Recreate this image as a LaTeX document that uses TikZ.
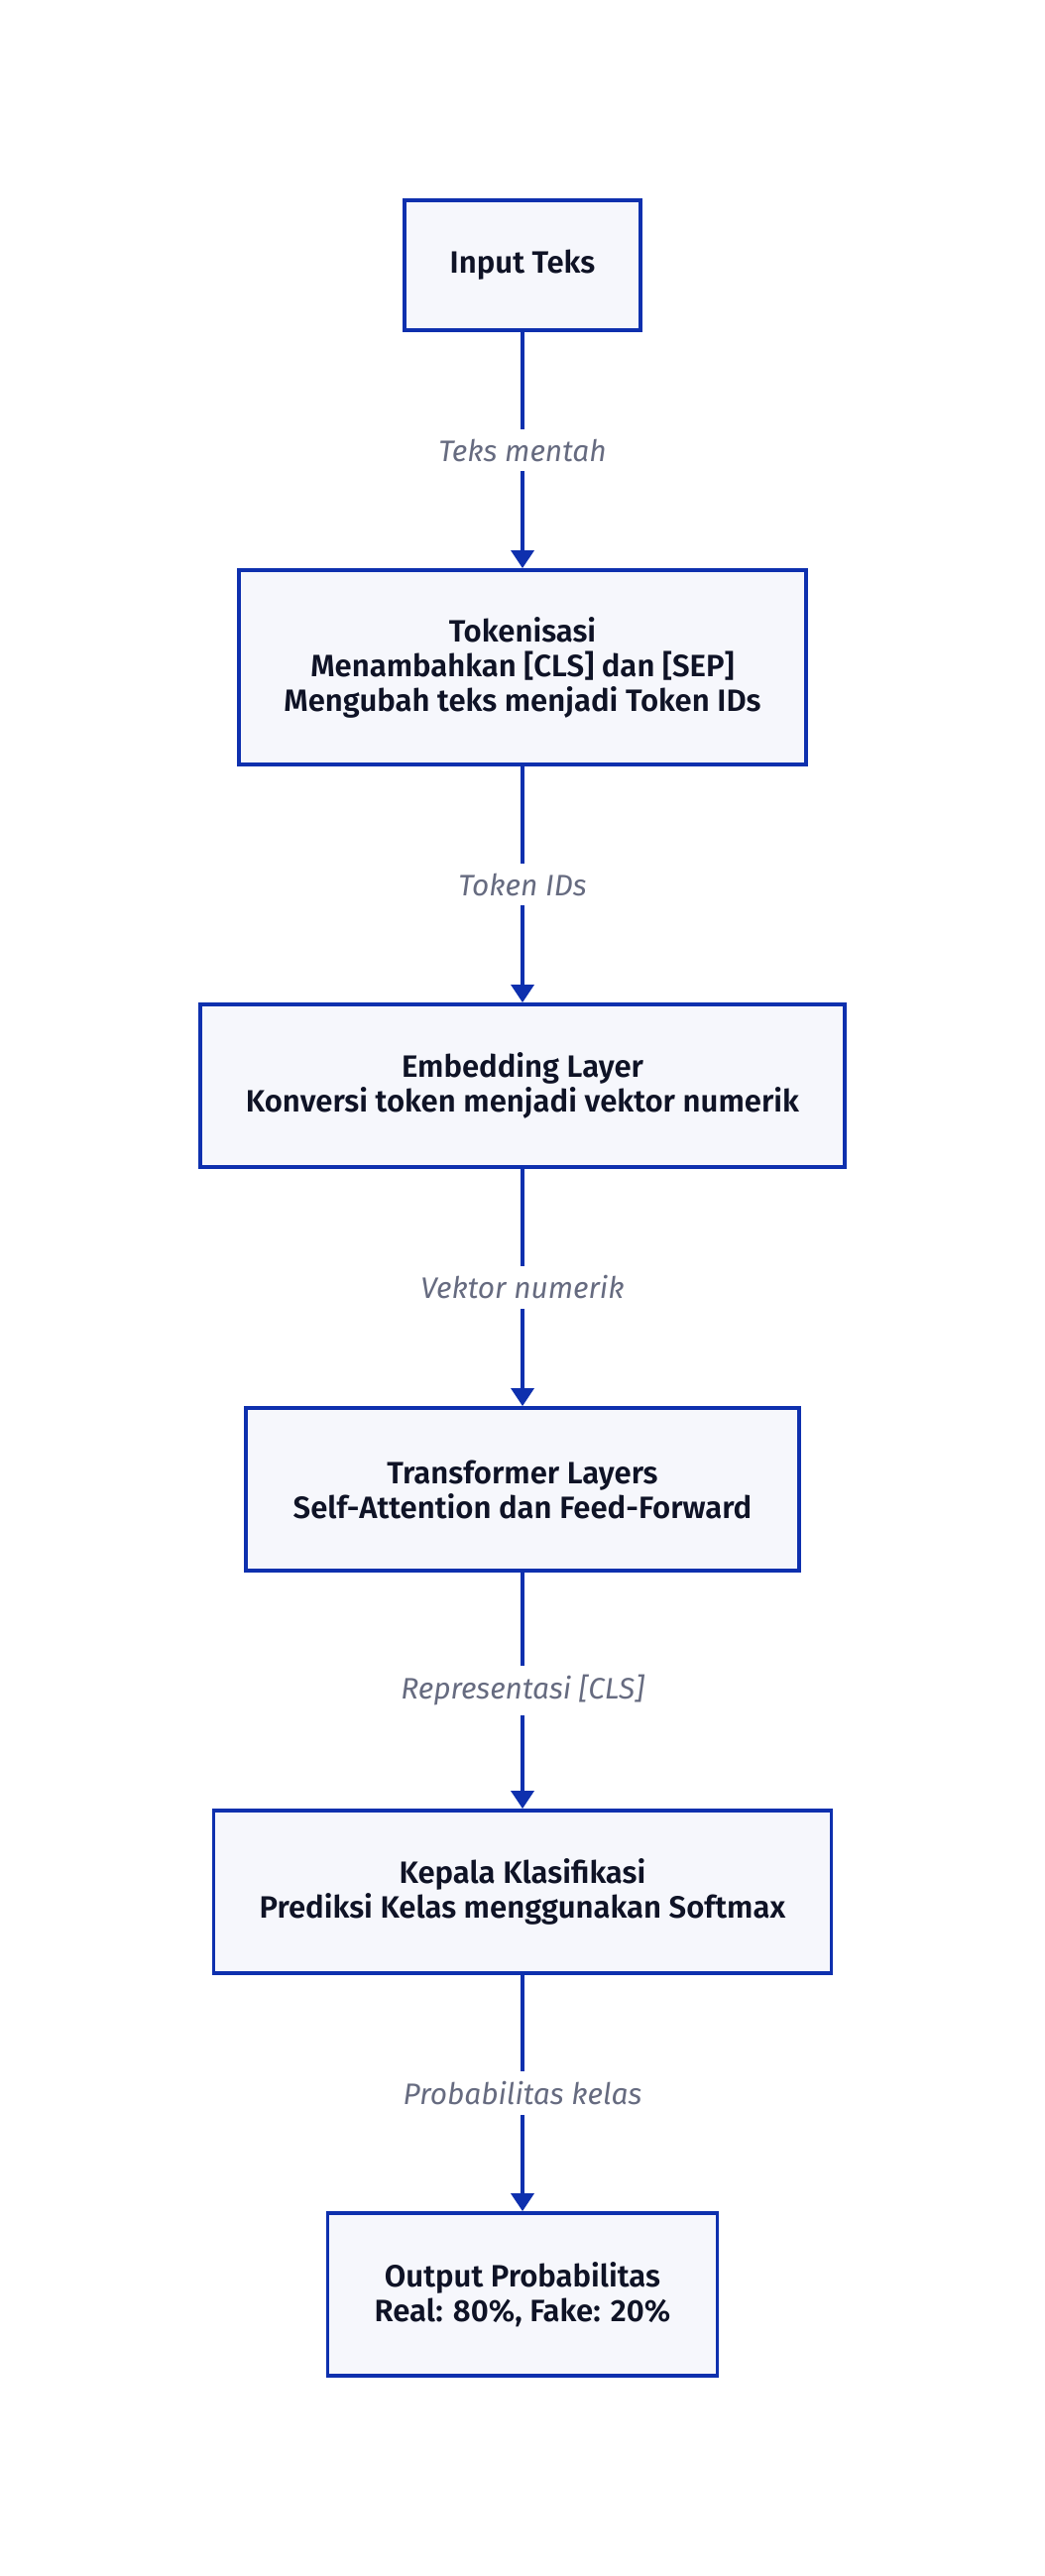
\documentclass[tikz,border=0pt]{standalone}
\usepackage{fontspec}
\setmainfont{Fira Sans}[BoldFont={Fira Sans SemiBold}]
\usetikzlibrary{arrows.meta,positioning}

\definecolor{flowblue}{RGB}{14,48,174}
\definecolor{boxfill}{RGB}{246,247,252}
\definecolor{boxtext}{RGB}{15,19,38}
\definecolor{lblgray}{RGB}{102,107,128}

\tikzset{
	stage/.style={draw=flowblue, line width=1.1pt, fill=boxfill, text=boxtext,
		align=center, inner sep=0pt, minimum height=1.64cm,
		font=\fontsize{8.85}{9.96}\selectfont\bfseries},
	flow/.style={draw=flowblue, line width=0.95pt, -{Triangle[width=0.23cm,length=0.18cm]}},
	lbl/.style={fill=white, text=lblgray, inner xsep=2pt, inner ysep=0.1cm,
		font=\fontsize{8.5}{9.96}\selectfont\itshape}
}

\begin{document}
\begin{tikzpicture}
		\useasboundingbox (0,0) rectangle (10.54,-25.98);

		% stages of the pipeline
		\node [stage, minimum width=2.38cm, minimum height=1.31cm] (input) at (5.27,-2.675) {Input Teks};
		\node [stage, minimum width=5.72cm, minimum height=1.96cm] (token) at (5.27,-6.73)
			{Tokenisasi\\Menambahkan [CLS] dan [SEP]\\Mengubah teks menjadi Token IDs};
		\node [stage, minimum width=6.50cm] (embed) at (5.27,-10.95)
			{Embedding Layer\\Konversi token menjadi vektor numerik};
		\node [stage, minimum width=5.58cm] (trans) at (5.27,-15.02)
			{Transformer Layers\\Self-Attention dan Feed-Forward};
		\node [stage, minimum width=6.23cm] (head) at (5.27,-19.08)
			{Kepala Klasifikasi\\Prediksi Kelas menggunakan Softmax};
		\node [stage, minimum width=3.93cm] (output) at (5.27,-23.14)
			{Output Probabilitas\\Real: 80\%, Fake: 20\%};

		% connectors
		\draw [flow] (input) -- node [lbl] {Teks mentah} (token);
		\draw [flow] (token) -- node [lbl] {Token IDs} (embed);
		\draw [flow] (embed) -- node [lbl] {Vektor numerik} (trans);
		\draw [flow] (trans) -- node [lbl] {Representasi [CLS]} (head);
		\draw [flow] (head) -- node [lbl] {Probabilitas kelas} (output);
	\end{tikzpicture}
\end{document}
